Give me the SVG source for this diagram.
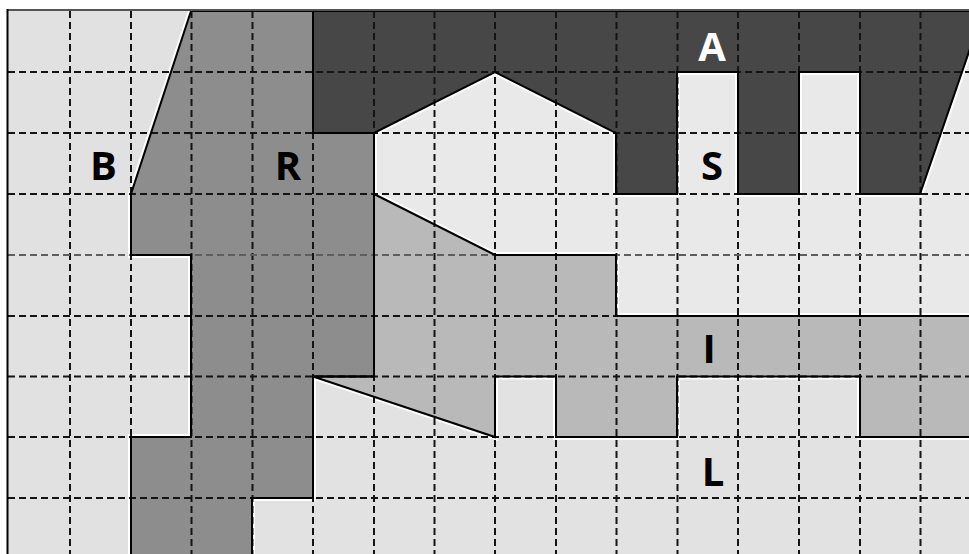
<svg xmlns="http://www.w3.org/2000/svg" width="969" height="554" viewBox="0 0 969 554">
<style>
.halo{fill:none;stroke:#ffffff;stroke-width:6;stroke-linejoin:miter}
.edge{fill:none;stroke:#000;stroke-width:2;stroke-linejoin:miter}
.grid line{stroke:#141414;stroke-width:2;stroke-dasharray:7 4}
.grid line.soft{stroke:#5e5e5e}
.lbl{font-family:"Open Sans","Liberation Sans",sans-serif;font-weight:bold;font-size:40px;text-anchor:middle;fill:#000}
</style>
<rect x="0" y="0" width="969" height="554" fill="#ffffff"/>
<rect x="8" y="11" width="970" height="550" fill="#e1e1e1"/>

<!-- light regions -->
<g id="B"><polygon points="8,11 191,11 131,194 131,255 191,255 191,437 131,437 131,560 8,560" fill="#e1e1e1"/></g>
<g id="S"><polygon points="374,133 495,72 616,133 616,194 677,194 677,72 738,72 738,194 799,194 799,72 860,72 860,194 920,194 983,11 990,11 990,316 616,316 616,255 495,255 374,194" fill="#e9e9e9"/></g>
<g id="L"><polygon points="313,376.5 495,437 495,376.5 556,376.5 556,437 677,437 677,376.5 860,376.5 860,437 990,437 990,560 252,560 252,498 313,498" fill="#e2e2e2"/></g>

<!-- halos -->
<g>
<polygon class="halo" points="313,11 983,11 920,194 860,194 860,72 799,72 799,194 738,194 738,72 677,72 677,194 616,194 616,133 495,72 374,133 313,133"/>
<polygon class="halo" points="191,11 313,11 313,133 374,133 374,376.5 313,376.5 313,498 252,498 252,560 131,560 131,437 191,437 191,255 131,255 131,194"/>
<polygon class="halo" points="374,194 495,255 616,255 616,316 990,316 990,437 860,437 860,376.5 677,376.5 677,437 556,437 556,376.5 495,376.5 495,437 313,376.5 374,376.5"/>
</g>

<!-- dark region fills -->
<g id="I"><polygon points="374,194 495,255 616,255 616,316 990,316 990,437 860,437 860,376.5 677,376.5 677,437 556,437 556,376.5 495,376.5 495,437 313,376.5 374,376.5" fill="#b9b9b9"/></g>
<g id="R"><polygon points="191,11 313,11 313,133 374,133 374,376.5 313,376.5 313,498 252,498 252,560 131,560 131,437 191,437 191,255 131,255 131,194" fill="#8d8d8d"/></g>
<g id="A"><polygon points="313,11 983,11 920,194 860,194 860,72 799,72 799,194 738,194 738,72 677,72 677,194 616,194 616,133 495,72 374,133 313,133" fill="#474747"/></g>

<!-- grid -->
<g class="grid">
<line x1="70" y1="11" x2="70" y2="554"/>
<line x1="131" y1="11" x2="131" y2="554"/>
<line x1="191.5" y1="11" x2="191.5" y2="554"/>
<line x1="252.5" y1="11" x2="252.5" y2="554"/>
<line x1="313" y1="11" x2="313" y2="554"/>
<line x1="374" y1="11" x2="374" y2="554"/>
<line x1="434.5" y1="11" x2="434.5" y2="554"/>
<line x1="495" y1="11" x2="495" y2="554"/>
<line x1="556" y1="11" x2="556" y2="554"/>
<line x1="616.5" y1="11" x2="616.5" y2="554"/>
<line x1="677.5" y1="11" x2="677.5" y2="554"/>
<line x1="738" y1="11" x2="738" y2="554"/>
<line x1="799" y1="11" x2="799" y2="554"/>
<line x1="860" y1="11" x2="860" y2="554"/>
<line x1="920.5" y1="11" x2="920.5" y2="554"/>
<line x1="8" y1="72" x2="969" y2="72"/>
<line x1="8" y1="133" x2="969" y2="133"/>
<line x1="8" y1="194" x2="969" y2="194"/>
<line class="soft" x1="8" y1="255" x2="969" y2="255"/>
<line x1="8" y1="316" x2="969" y2="316"/>
<line x1="8" y1="376.5" x2="969" y2="376.5"/>
<line x1="8" y1="437" x2="969" y2="437"/>
<line x1="8" y1="498" x2="969" y2="498"/>
</g>

<!-- region edges -->
<g id="edges">
<polygon class="edge" points="374,194 495,255 616,255 616,316 990,316 990,437 860,437 860,376.5 677,376.5 677,437 556,437 556,376.5 495,376.5 495,437 313,376.5 374,376.5"/>
<polygon class="edge" points="191,11 313,11 313,133 374,133 374,376.5 313,376.5 313,498 252,498 252,560 131,560 131,437 191,437 191,255 131,255 131,194"/>
<polygon class="edge" points="313,11 983,11 920,194 860,194 860,72 799,72 799,194 738,194 738,72 677,72 677,194 616,194 616,133 495,72 374,133 313,133"/>
</g>

<!-- frame -->
<line x1="7" y1="10" x2="969" y2="10" stroke="#555" stroke-width="2"/>
<line x1="7.5" y1="9" x2="7.5" y2="554" stroke="#000" stroke-width="2"/>

<!-- labels -->
<text class="lbl" x="712" y="61" style="fill:#ffffff">A</text>
<text class="lbl" x="103.5" y="180">B</text>
<text class="lbl" x="288" y="180">R</text>
<text class="lbl" x="712" y="180">S</text>
<text class="lbl" x="709" y="363">I</text>
<text class="lbl" x="713" y="486">L</text>
</svg>
